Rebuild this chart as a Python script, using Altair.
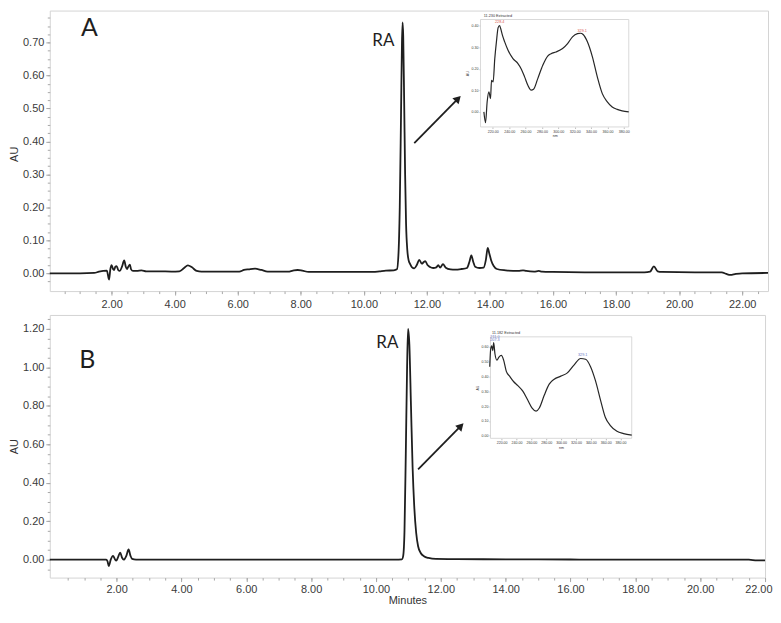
import altair as alt
import pandas as pd

INK = "#1e1e1e"
FONT = "Liberation Sans"

# ---------------- data ----------------
# Panel A chromatogram (minutes, AU)
a_pts = [
    (0.04, 0.000), (1.00, 0.000), (1.45, 0.001), (1.60, 0.005), (1.85, 0.008),
    (1.92, -0.019), (1.96, 0.012), (2.00, 0.025), (2.05, 0.012), (2.08, 0.010),
    (2.12, 0.020), (2.16, 0.022), (2.21, 0.010), (2.26, 0.007), (2.33, 0.020),
    (2.40, 0.039), (2.45, 0.020), (2.49, 0.013), (2.53, 0.020), (2.58, 0.026),
    (2.62, 0.012), (2.68, 0.007), (2.80, 0.007), (2.95, 0.009), (3.10, 0.006),
    (3.50, 0.006), (3.90, 0.005), (4.15, 0.006), (4.30, 0.016), (4.42, 0.024),
    (4.55, 0.018), (4.70, 0.007), (4.85, 0.005), (5.50, 0.005), (6.05, 0.005),
    (6.20, 0.010), (6.35, 0.012), (6.55, 0.014), (6.75, 0.010), (6.95, 0.005),
    (7.60, 0.005), (7.75, 0.008), (7.90, 0.010), (8.05, 0.008), (8.25, 0.004),
    (9.00, 0.004), (10.30, 0.004), (10.50, 0.006), (10.70, 0.008), (10.95, 0.009),
    (11.05, 0.012), (11.10, 0.060), (11.14, 0.200), (11.18, 0.480), (11.21, 0.700),
    (11.23, 0.761), (11.25, 0.720), (11.28, 0.520), (11.31, 0.300), (11.34, 0.150),
    (11.38, 0.070), (11.42, 0.040), (11.47, 0.028), (11.53, 0.018), (11.60, 0.015),
    (11.68, 0.025), (11.76, 0.041), (11.84, 0.029), (11.90, 0.034), (11.95, 0.037),
    (12.02, 0.025), (12.10, 0.019), (12.20, 0.016), (12.30, 0.018), (12.36, 0.025),
    (12.42, 0.017), (12.51, 0.028), (12.60, 0.017), (12.75, 0.012), (12.90, 0.011),
    (13.10, 0.013), (13.27, 0.016), (13.35, 0.035), (13.41, 0.054), (13.47, 0.035),
    (13.53, 0.020), (13.67, 0.016), (13.80, 0.017), (13.87, 0.040), (13.93, 0.077),
    (13.98, 0.060), (14.04, 0.039), (14.12, 0.022), (14.22, 0.013), (14.50, 0.009),
    (14.90, 0.007), (15.05, 0.009), (15.15, 0.007), (15.40, 0.005), (15.55, 0.007),
    (15.65, 0.005), (16.00, 0.004), (17.00, 0.003), (18.00, 0.003), (18.90, 0.003),
    (19.08, 0.005), (19.20, 0.021), (19.32, 0.006), (19.45, 0.004), (20.50, 0.003),
    (21.35, 0.003), (21.50, -0.002), (21.62, -0.005), (21.80, -0.002), (22.00, 0.000),
    (22.82, 0.001),
]

# Panel B chromatogram (minutes, AU)
b_pts = [
    (-0.06, 0.000), (1.00, 0.000), (1.68, 0.000), (1.72, -0.008), (1.76, -0.033),
    (1.82, 0.000), (1.89, 0.020), (1.95, 0.002), (1.99, -0.005), (2.05, 0.015),
    (2.11, 0.037), (2.17, 0.010), (2.22, 0.000), (2.30, 0.020), (2.37, 0.053),
    (2.43, 0.020), (2.48, 0.004), (2.60, 0.000), (5.00, 0.000), (8.00, 0.000),
    (10.60, 0.000), (10.80, 0.002), (10.84, 0.020), (10.88, 0.150), (10.92, 0.550),
    (10.96, 1.000), (10.99, 1.200), (11.03, 1.120), (11.08, 0.800), (11.13, 0.480),
    (11.18, 0.280), (11.24, 0.140), (11.30, 0.070), (11.38, 0.035), (11.48, 0.018),
    (11.62, 0.009), (11.85, 0.004), (12.50, 0.003), (14.00, 0.002), (16.00, 0.001),
    (18.00, 0.000), (21.50, 0.000), (21.75, -0.004), (22.00, -0.004),
]

# Inset spectra (nm, AU)
ia_pts = [
    (209.1, 0.000), (211.1, -0.050), (213.1, 0.047), (215.2, 0.093), (217.2, 0.062),
    (218.4, 0.147), (220.4, 0.140), (222.4, 0.248), (224.4, 0.326), (226.5, 0.392),
    (228.2, 0.402), (229.6, 0.388), (231.7, 0.357), (234.5, 0.326), (238.6, 0.287),
    (244.6, 0.248), (250.7, 0.225), (254.7, 0.200), (258.8, 0.163), (262.8, 0.124),
    (266.9, 0.101), (269.7, 0.105), (274.9, 0.155), (281.0, 0.217), (287.0, 0.260),
    (291.1, 0.271), (297.2, 0.279), (305.2, 0.295), (311.3, 0.318), (317.3, 0.349),
    (323.4, 0.364), (327.0, 0.366), (330.3, 0.360), (335.5, 0.326), (341.6, 0.256),
    (347.6, 0.163), (353.7, 0.085), (359.8, 0.047), (365.8, 0.023), (371.9, 0.012),
    (377.9, 0.005), (386.0, 0.000),
]
ib_pts = [
    (204.0, 0.466), (205.3, 0.585), (206.7, 0.606), (208.0, 0.574), (209.3, 0.628),
    (211.0, 0.553), (213.7, 0.510), (216.4, 0.531), (219.6, 0.542), (222.7, 0.510),
    (226.3, 0.434), (230.7, 0.402), (236.0, 0.366), (241.8, 0.338), (248.5, 0.301),
    (255.1, 0.241), (261.0, 0.187), (266.3, 0.166), (270.7, 0.187), (277.3, 0.273),
    (284.0, 0.348), (290.7, 0.381), (299.6, 0.402), (308.4, 0.424), (317.3, 0.477),
    (326.3, 0.521), (332.9, 0.516), (339.6, 0.466), (346.3, 0.370), (353.0, 0.241),
    (359.6, 0.123), (366.3, 0.069), (375.1, 0.030), (384.0, 0.015), (395.0, 0.004),
]

# tick labels
x_major = [2, 4, 6, 8, 10, 12, 14, 16, 18, 20, 22]
a_y_major = [0.0, 0.1, 0.2, 0.3, 0.4, 0.5, 0.6, 0.7]
b_y_major = [0.0, 0.2, 0.4, 0.6, 0.8, 1.0, 1.2]
x_minor = [i * 0.5 for i in range(1, 46)]
a_y_minor = [round(-0.025 + i * 0.025, 3) for i in range(0, 33)]
b_y_minor = [round(-0.05 + i * 0.05, 3) for i in range(0, 27)]
inset_x_ticks = [220, 240, 260, 280, 300, 320, 340, 360, 380]
ia_y_ticks = [0.0, 0.1, 0.2, 0.3, 0.4]
ib_y_ticks = [0.0, 0.1, 0.2, 0.3, 0.4, 0.5, 0.6]

# annotations (data coordinates)
a_letter = (1.30, 0.745, "A")
a_ra = (10.62, 0.705, "RA")
a_arrow = (11.60, 0.395, 12.99, 0.530)
b_letter = (1.10, 1.040, "B")
b_ra = (10.35, 1.125, "RA")
b_arrow = (11.30, 0.470, 12.62, 0.695)

ia_title = (209.0, 0.447, "11.230 Extracted")
ia_peaks = [(228.4, 0.418, "228.4"), (329.1, 0.376, "329.1")]
ib_title = (207.0, 0.693, "11.182 Extracted")
ib_peaks = [(211.0, 0.668, "211.0"), (211.0, 0.645, "207.3"), (329.1, 0.545, "329.1")]


def panel(pts, xdom, ydom, W, H, y_major, y_minor, xtitle, au_y, letter, ra, arrow,
          ins_pts, ins_xdom, ins_xr, ins_ydom, ins_yr, ins_yticks, ins_title, ins_peaks,
          peak_color, label_pad):
    df = pd.DataFrame(pts, columns=["t", "au"])
    xs = alt.Scale(domain=xdom, nice=False, zero=False)
    ys = alt.Scale(domain=ydom, nice=False, zero=False)

    xaxis = alt.Axis(orient="bottom", values=x_major, format=".2f", tickSize=4,
                     labelPadding=label_pad, grid=False, domain=False, labelFlush=1,
                     labelFlushOffset=7, labelOverlap=False, titlePadding=0)
    main = alt.Chart(df).mark_line(color=INK, strokeWidth=1.8, interpolate="monotone").encode(
        x=alt.X("t:Q", scale=xs, axis=xaxis, title=xtitle),
        y=alt.Y("au:Q", scale=ys, title="AU",
                axis=alt.Axis(orient="left", values=y_major, format=".2f", tickSize=4,
                              labelPadding=2, grid=False, domain=False, labelOverlap=False,
                              titleX=-35, titleY=au_y, titleAngle=270, titleAlign="center",
                              titleBaseline="middle")),
    )
    minor = alt.Chart(df).mark_line(opacity=0).encode(
        x=alt.X("t:Q", scale=xs, title=None,
                axis=alt.Axis(orient="bottom", values=x_minor, labels=False, tickSize=2.5,
                              grid=False, domain=False)),
        y=alt.Y("au:Q", scale=ys, title=None,
                axis=alt.Axis(orient="left", values=y_minor, labels=False, tickSize=2.5,
                              grid=False, domain=False)),
    )

    def txt(item, size):
        d = pd.DataFrame({"t": [item[0]], "au": [item[1]], "s": [item[2]]})
        return alt.Chart(d).mark_text(fontSize=size, font="Lato", color=INK,
                                      baseline="middle").encode(
            x=alt.X("t:Q", scale=xs, axis=None),
            y=alt.Y("au:Q", scale=ys, axis=None),
            text="s:N",
        )

    adf = pd.DataFrame({"t": [arrow[0]], "au": [arrow[1]], "t2": [arrow[2]], "au2": [arrow[3]]})
    rule = alt.Chart(adf).mark_rule(color=INK, strokeWidth=1.8).encode(
        x=alt.X("t:Q", scale=xs, axis=None), y=alt.Y("au:Q", scale=ys, axis=None),
        x2="t2:Q", y2="au2:Q")
    head = alt.Chart(adf).mark_point(shape="triangle-up", angle=44, size=75, filled=True,
                                     color=INK, opacity=1).encode(
        x=alt.X("t2:Q", scale=xs, axis=None), y=alt.Y("au2:Q", scale=ys, axis=None))

    # inset spectrum
    ixs = alt.Scale(domain=ins_xdom, range=ins_xr, nice=False, zero=False)
    iys = alt.Scale(domain=ins_ydom, range=ins_yr, nice=False, zero=False)
    fdf = pd.DataFrame({"x": [ins_xdom[0]], "x2": [ins_xdom[1]],
                        "y": [ins_ydom[0]], "y2": [ins_ydom[1]]})
    frame = alt.Chart(fdf).mark_rect(fill="white", stroke="#cfcfcf", strokeWidth=0.8).encode(
        x=alt.X("x:Q", scale=ixs, axis=None), x2="x2:Q",
        y=alt.Y("y:Q", scale=iys, axis=None), y2="y2:Q")
    idf = pd.DataFrame(ins_pts, columns=["nm", "au"])
    iline = alt.Chart(idf).mark_line(color="#262626", strokeWidth=1.2,
                                     interpolate="monotone").encode(
        x=alt.X("nm:Q", scale=ixs, title="nm",
                axis=alt.Axis(orient="bottom", offset=ins_yr[0] - H, values=inset_x_ticks,
                              format=".2f", labelFontSize=3.6, tickSize=1.5, labelPadding=1,
                              domain=False, grid=False, labelFlush=False, labelOverlap=False,
                              titleFontSize=3.6, titlePadding=1, tickColor="#bbbbbb")),
        y=alt.Y("au:Q", scale=iys, title="AU",
                axis=alt.Axis(orient="left", offset=-ins_xr[0], values=ins_yticks,
                              format=".2f", labelFontSize=3.6, tickSize=1.5, labelPadding=1,
                              domain=False, grid=False, labelOverlap=False,
                              titleFontSize=3.6, titlePadding=2, tickColor="#bbbbbb")),
    )
    tdf = pd.DataFrame({"x": [ins_title[0]], "y": [ins_title[1]], "s": [ins_title[2]]})
    ititle = alt.Chart(tdf).mark_text(fontSize=3.8, font=FONT, color="#333333", align="left",
                                      baseline="middle").encode(
        x=alt.X("x:Q", scale=ixs, axis=None), y=alt.Y("y:Q", scale=iys, axis=None), text="s:N")
    pdf = pd.DataFrame(ins_peaks, columns=["x", "y", "s"])
    ipeaks = alt.Chart(pdf).mark_text(fontSize=3.8, font=FONT, color=peak_color,
                                      baseline="middle").encode(
        x=alt.X("x:Q", scale=ixs, axis=None), y=alt.Y("y:Q", scale=iys, axis=None), text="s:N")

    return alt.layer(
        main, minor, txt(letter, 25), txt(ra, 17), rule, head, frame, iline, ititle, ipeaks
    ).resolve_scale(x="independent", y="independent").properties(width=W, height=H)


pA = panel(a_pts, [0.04, 22.82], [-0.054, 0.797], 722, 282, a_y_major, a_y_minor, None, 144,
           a_letter, a_ra, a_arrow, ia_pts, [205, 386], [433, 582], [-0.07, 0.43], [117, 9],
           ia_y_ticks, ia_title, ia_peaks, "#d9534f", 3)
pB = panel(b_pts, [-0.06, 22.0], [-0.093, 1.272], 719, 264, b_y_major, b_y_minor, "Minutes", 132,
           b_letter, b_ra, b_arrow, ib_pts, [205, 395], [443, 585], [-0.017, 0.667], [124, 22],
           ib_y_ticks, ib_title, ib_peaks, "#6673c4", 2)

chart = alt.vconcat(pA, pB, spacing=24, bounds="flush").properties(
    padding=0, background="white"
).configure_view(
    stroke="#d4d4d4", strokeWidth=1
).configure_axis(
    labelFont=FONT, labelFontSize=11, labelColor="#3a3a3a", tickColor="#a8a8a8",
    titleFont=FONT, titleFontSize=11, titleColor="#333333", titleFontWeight="normal"
)

chart.save("out.html", embed_options={"renderer": "svg", "actions": False})
